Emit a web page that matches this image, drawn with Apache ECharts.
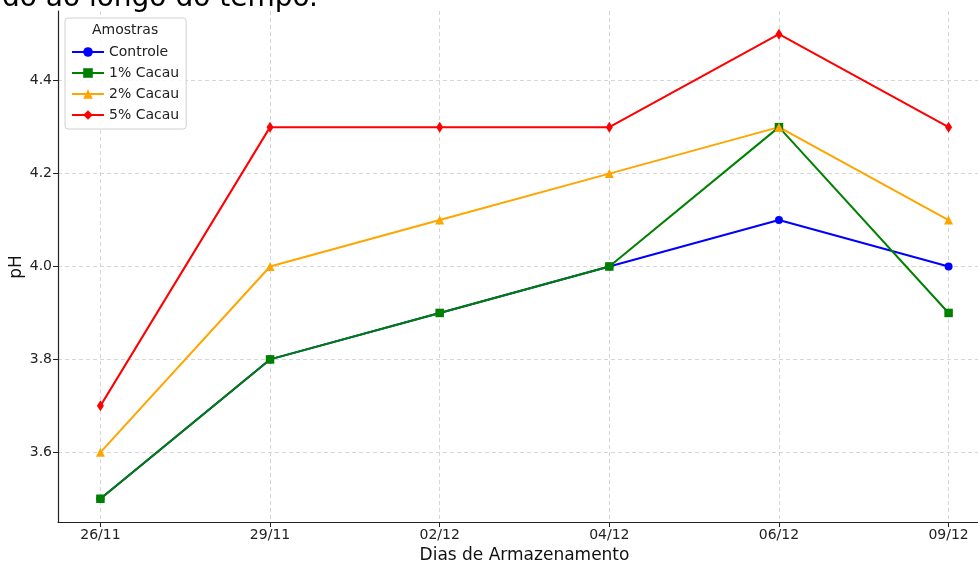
<!DOCTYPE html>
<html><head><meta charset="utf-8">
<script src="https://cdn.jsdelivr.net/npm/echarts@6/dist/echarts.min.js"></script>
<style>html,body{margin:0;padding:0;background:#fff}#c{width:978px;height:561px}</style>
</head><body><div id="c"></div>
<script>
const categories = ['26/11','29/11','02/12','04/12','06/12','09/12'];
const controle = [3.5, 3.8, 3.9, 4.0, 4.1, 4.0];
const cacau1 = [3.5, 3.8, 3.9, 4.0, 4.3, 3.9];
const cacau2 = [3.6, 4.0, 4.1, 4.2, 4.3, 4.1];
const cacau5 = [3.7, 4.3, 4.3, 4.3, 4.5, 4.3];
const yTicks = [3.6, 3.8, 4.0, 4.2, 4.4];
const xTicks = categories.map((c, i) => i);

const font = 'DejaVu Sans';
function mk(name, vals, color, symbol, size) {
  return {
    name, type: 'line', data: vals.map((v, i) => [i, v]),
    symbol, symbolSize: size,
    lineStyle: { color, width: 2 }, itemStyle: { color },
    emphasis: { disabled: true }, animation: false
  };
}
const chart = echarts.init(document.getElementById('c'));
chart.setOption({
  animation: false,
  textStyle: { fontFamily: font },
  grid: { left: 58, top: 11, width: 933, height: 511, containLabel: false, outerBoundsMode: 'none' },
  xAxis: {
    type: 'value', min: -0.25, max: 5.25,
    name: 'Dias de Armazenamento', nameLocation: 'middle', nameGap: 25,
    nameTextStyle: { fontSize: 17, color: '#111', fontFamily: font },
    axisLine: { onZero: false, lineStyle: { color: '#222', width: 1.2 } },
    axisTick: { show: true, length: 5, customValues: xTicks, lineStyle: { color: '#222' } },
    axisLabel: { customValues: xTicks, formatter: v => categories[Math.round(v)], fontSize: 14, color: '#222', margin: 6, fontFamily: font },
    splitLine: { show: true, lineStyle: { color: '#cccccc', type: [4, 3], width: 0.8 } }
  },
  yAxis: {
    type: 'value', min: 3.45, max: 4.55,
    axisLine: { show: true, onZero: false, lineStyle: { color: '#222', width: 1.2 } },
    axisTick: { show: true, length: 5, customValues: yTicks, lineStyle: { color: '#222' } },
    axisLabel: { customValues: yTicks, formatter: v => v.toFixed(1), fontSize: 14, color: '#222', margin: 6, fontFamily: font },
    splitLine: { show: true, lineStyle: { color: '#cccccc', type: [4, 3], width: 0.8 } }
  },
  legend: {
    orient: 'vertical', left: 65, top: 18,
    padding: [27, 7, 7, 6], itemGap: 7, itemWidth: 32, itemHeight: 12,
    backgroundColor: 'rgba(255,255,255,0.85)', borderColor: '#d0d0d0', borderWidth: 1, borderRadius: 3,
    textStyle: { fontSize: 14, color: '#222', fontFamily: font },
    data: ['Controle', '1% Cacau', '2% Cacau', '5% Cacau']
  },
  graphic: [
    { type: 'text', left: 92, top: 23, z: 100, style: { text: 'Amostras', fontSize: 14, fill: '#222', fontFamily: font } },
    { type: 'text', z: 100, x: 318, y: -15, style: { text: 'do ao longo do tempo.', fontSize: 28, fill: '#000', fontFamily: font, align: 'right', verticalAlign: 'top' } },
    { type: 'text', z: 100, x: 17, y: 267, rotation: Math.PI / 2, style: { text: 'pH', fontSize: 17, fill: '#111', fontFamily: font, align: 'center', verticalAlign: 'middle' } }
  ],
  series: [
    mk('Controle', controle, '#0000ff', 'circle', 8),
    mk('1% Cacau', cacau1, '#008000', 'rect', 8.5),
    mk('2% Cacau', cacau2, '#ffa500', 'triangle', 9),
    mk('5% Cacau', cacau5, '#ff0000', 'diamond', [7, 11])
  ]
});
</script></body></html>
